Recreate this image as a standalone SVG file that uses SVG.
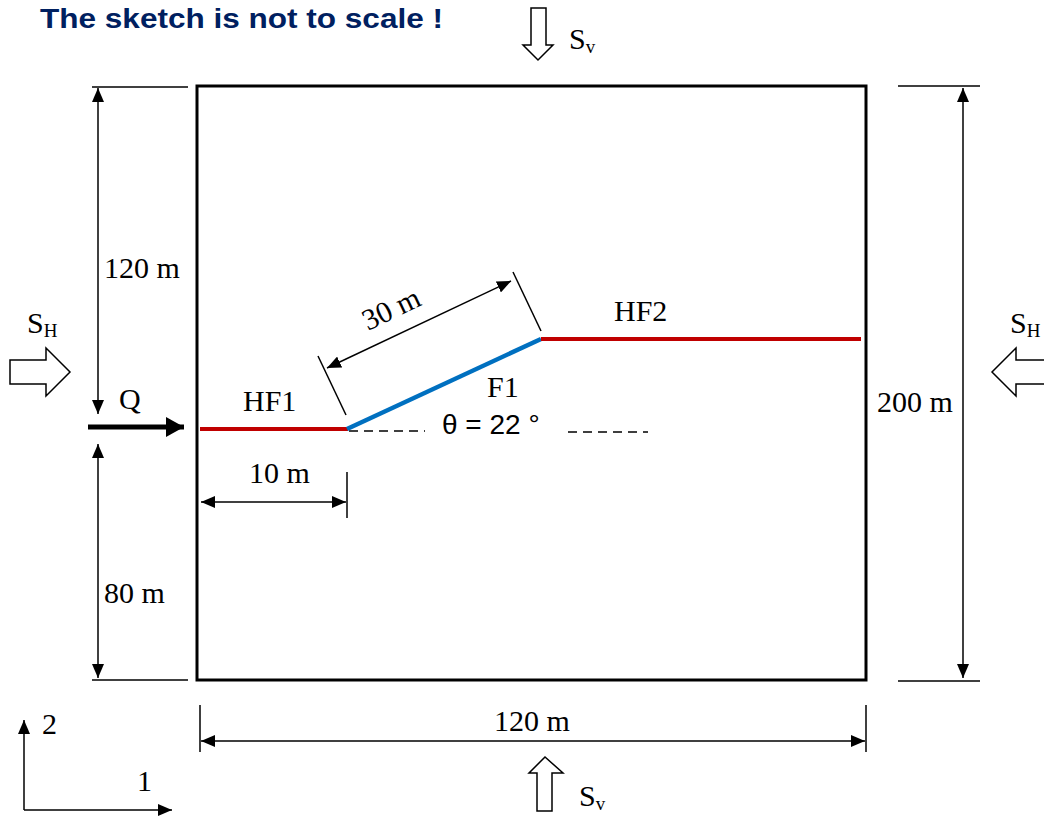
<svg xmlns="http://www.w3.org/2000/svg" width="1044" height="816" viewBox="0 0 1044 816">
<defs>
<marker id="ah" markerUnits="userSpaceOnUse" markerWidth="14" markerHeight="12" viewBox="0 0 14 12" refX="14" refY="6" orient="auto-start-reverse">
<path d="M0,0 L14,6 L0,12 Z" fill="#000"/>
</marker>
<marker id="ahq" markerUnits="userSpaceOnUse" markerWidth="18" markerHeight="20" viewBox="0 0 18 20" refX="18" refY="10" orient="auto">
<path d="M0,0 L18,10 L0,20 Z" fill="#000"/>
</marker>
<style>
.t{font-family:"Liberation Serif","Times New Roman",serif;font-size:30px;fill:#000}
.sub{font-size:19px}
.dim{stroke:#000;stroke-width:1.5;fill:none}
.ext{stroke:#000;stroke-width:1.5}
.hol{fill:#fff;stroke:#000;stroke-width:1.5}
</style>
</defs>
<rect width="1044" height="816" fill="#fff"/>
<text x="40" y="28" font-family="'Liberation Sans','Open Sans',sans-serif" font-weight="bold" font-size="27" fill="#002060" textLength="403" lengthAdjust="spacingAndGlyphs">The sketch is not to scale !</text>

<g id="box"><rect x="197" y="86" width="669" height="594" fill="none" stroke="#000" stroke-width="3"/></g>

<g id="connectors">
<line class="ext" x1="92" y1="87" x2="188" y2="87"/>
<line class="ext" x1="92" y1="680" x2="188" y2="680"/>
<line class="ext" x1="898" y1="86" x2="980" y2="86"/>
<line class="ext" x1="898" y1="681" x2="980" y2="681"/>
<line class="dim" x1="98" y1="88" x2="98" y2="414" marker-start="url(#ah)" marker-end="url(#ah)"/>
<line class="dim" x1="98" y1="444" x2="98" y2="678" marker-start="url(#ah)" marker-end="url(#ah)"/>
<line class="dim" x1="963" y1="88" x2="963" y2="678" marker-start="url(#ah)" marker-end="url(#ah)"/>
<line class="ext" x1="200" y1="705" x2="200" y2="752"/>
<line class="ext" x1="866" y1="705" x2="866" y2="752"/>
<line class="dim" x1="201" y1="741" x2="865" y2="741" marker-start="url(#ah)" marker-end="url(#ah)"/>
<line class="ext" x1="347" y1="472" x2="347" y2="518"/>
<line class="dim" x1="201" y1="502" x2="346" y2="502" marker-start="url(#ah)" marker-end="url(#ah)"/>
<line class="ext" x1="318" y1="356" x2="346" y2="415"/>
<line class="ext" x1="513" y1="272" x2="541" y2="331"/>
<line class="dim" x1="327" y1="368" x2="511" y2="281" marker-start="url(#ah)" marker-end="url(#ah)"/>
<line x1="88" y1="427" x2="184" y2="427" stroke="#000" stroke-width="5" marker-end="url(#ahq)"/>
<line x1="349" y1="431" x2="425" y2="431" stroke="#000" stroke-width="1.5" stroke-dasharray="9,6"/>
<line x1="568" y1="432" x2="648" y2="432" stroke="#000" stroke-width="1.5" stroke-dasharray="9,6"/>
<line class="dim" x1="24" y1="810" x2="24" y2="720" marker-end="url(#ah)"/>
<line class="dim" x1="24" y1="810" x2="172" y2="810" marker-end="url(#ah)"/>
</g>

<g id="HF1"><line x1="200" y1="429" x2="348" y2="429" stroke="#C00000" stroke-width="4"/><text class="t" x="243" y="411">HF1</text></g>
<g id="F1"><line x1="347" y1="429" x2="541" y2="339" stroke="#0070C0" stroke-width="4.5"/><text class="t" x="487" y="397">F1</text></g>
<g id="HF2"><line x1="541" y1="339" x2="861" y2="339" stroke="#C00000" stroke-width="4"/><text class="t" x="614" y="321">HF2</text></g>

<g id="labels">
<text class="t" x="104" y="278">120 m</text>
<text class="t" x="104" y="603">80 m</text>
<text class="t" x="119" y="409">Q</text>
<text class="t" x="249" y="483">10 m</text>
<text class="t" x="877" y="412">200 m</text>
<text class="t" x="494" y="731">120 m</text>
<text class="t" x="42" y="734">2</text>
<text class="t" x="137" y="791">1</text>
<text class="t" transform="translate(368,331) rotate(-25.5)">30 m</text>
<text x="442" y="434" font-family="'Liberation Sans','Open Sans',sans-serif" font-size="28" fill="#000">θ = 22 °</text>
</g>

<g id="SH-left">
<path class="hol" d="M10,360 L46,360 L46,348 L70,372 L46,396 L46,384 L10,384 Z"/>
<text class="t" x="27" y="333">S<tspan class="sub" dy="4">H</tspan></text>
</g>
<g id="SH-right">
<path class="hol" d="M1050,360 L1016,360 L1016,348 L992,372 L1016,396 L1016,384 L1050,384 Z"/>
<text class="t" x="1010" y="333">S<tspan class="sub" dy="4">H</tspan></text>
</g>
<g id="Sv-top">
<path class="hol" d="M531,8 L546,8 L546,45 L553,45 L538,60 L523,45 L531,45 Z"/>
<text class="t" x="569" y="49">S<tspan class="sub" dy="4">v</tspan></text>
</g>
<g id="Sv-bottom">
<path class="hol" d="M537,811 L552,811 L552,773 L563,773 L545,757 L529,773 L537,773 Z"/>
<text class="t" x="579" y="806">S<tspan class="sub" dy="4">v</tspan></text>
</g>
</svg>
